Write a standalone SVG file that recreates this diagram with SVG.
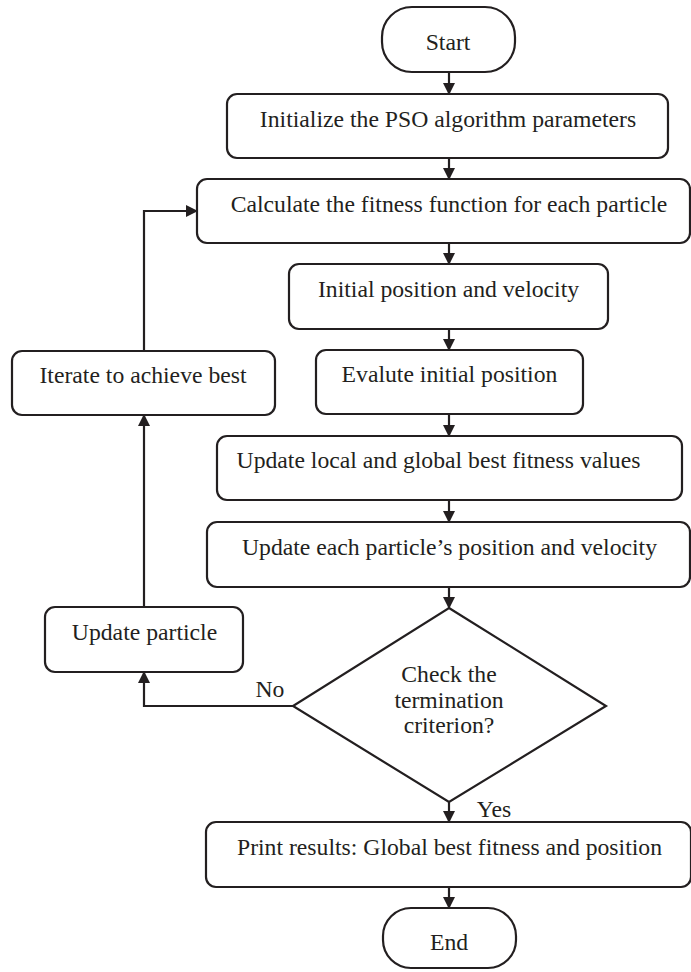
<svg xmlns="http://www.w3.org/2000/svg" width="691" height="972" viewBox="0 0 691 972">
<style>
.n{fill:#fff;stroke:#231f20;stroke-width:2.2}
.t{font-family:"Liberation Serif","Times New Roman",serif;font-size:23.7px;fill:#231f20;text-anchor:middle}
.c{fill:none;stroke:#231f20;stroke-width:2.2}
</style>
<defs>
<marker id="ah" markerWidth="12" markerHeight="12" refX="11" refY="6" orient="auto" markerUnits="userSpaceOnUse">
<path d="M0,0 L12,6 L0,12 Z" fill="#231f20"/>
</marker>
</defs>
<rect width="691" height="972" fill="#fff"/>
<g id="connectors">
<path class="c" d="M449,72 V94" marker-end="url(#ah)"/>
<path class="c" d="M449,158 V179" marker-end="url(#ah)"/>
<path class="c" d="M449,243 V264" marker-end="url(#ah)"/>
<path class="c" d="M449,329 V350" marker-end="url(#ah)"/>
<path class="c" d="M449,414 V436" marker-end="url(#ah)"/>
<path class="c" d="M449,500 V522" marker-end="url(#ah)"/>
<path class="c" d="M449,587 V608" marker-end="url(#ah)"/>
<path class="c" d="M449,802 V822" marker-end="url(#ah)"/>
<path class="c" d="M449,887 V908" marker-end="url(#ah)"/>
<path class="c" d="M293,706 H144 V672" marker-end="url(#ah)"/>
<path class="c" d="M144,607 V415" marker-end="url(#ah)"/>
<path class="c" d="M144,351 V211 H197" marker-end="url(#ah)"/>
<text class="t" x="270" y="697">No</text>
<text class="t" x="494" y="817">Yes</text>
</g>
<g id="start"><rect class="n" x="382" y="7" width="133" height="65" rx="30"/><text class="t" x="448" y="50">Start</text></g>
<g id="init"><rect class="n" x="227" y="94" width="441" height="64" rx="10"/><text class="t" x="448" y="127">Initialize the PSO algorithm parameters</text></g>
<g id="fitness"><rect class="n" x="197" y="179" width="493" height="64" rx="10"/><text class="t" x="449" y="212">Calculate the fitness function for each particle</text></g>
<g id="initpos"><rect class="n" x="289" y="264" width="319" height="65" rx="10"/><text class="t" x="448.5" y="297">Initial position and velocity</text></g>
<g id="evalute"><rect class="n" x="316" y="350" width="267" height="64" rx="10"/><text class="t" x="449.5" y="382">Evalute initial position</text></g>
<g id="iterate"><rect class="n" x="12" y="351" width="263" height="64" rx="10"/><text class="t" x="143" y="383">Iterate to achieve best</text></g>
<g id="updlocal"><rect class="n" x="217" y="436" width="465" height="64" rx="10"/><text class="t" x="438.5" y="468">Update local and global best fitness values</text></g>
<g id="updeach"><rect class="n" x="207" y="522" width="483" height="65" rx="10"/><text class="t" x="449.5" y="555">Update each particle’s position and velocity</text></g>
<g id="check"><polygon class="n" points="449,608 606,706 449,802 293,706"/><text class="t" x="449" y="682">Check the</text><text class="t" x="449" y="708">termination</text><text class="t" x="449" y="733">criterion?</text></g>
<g id="updpart"><rect class="n" x="45" y="607" width="198" height="65" rx="10"/><text class="t" x="144.5" y="640">Update particle</text></g>
<g id="print"><rect class="n" x="206" y="822" width="485" height="65" rx="10"/><text class="t" x="449.5" y="855">Print results: Global best fitness and position</text></g>
<g id="end"><rect class="n" x="383" y="908" width="133" height="60" rx="28"/><text class="t" x="449" y="950">End</text></g>
</svg>
